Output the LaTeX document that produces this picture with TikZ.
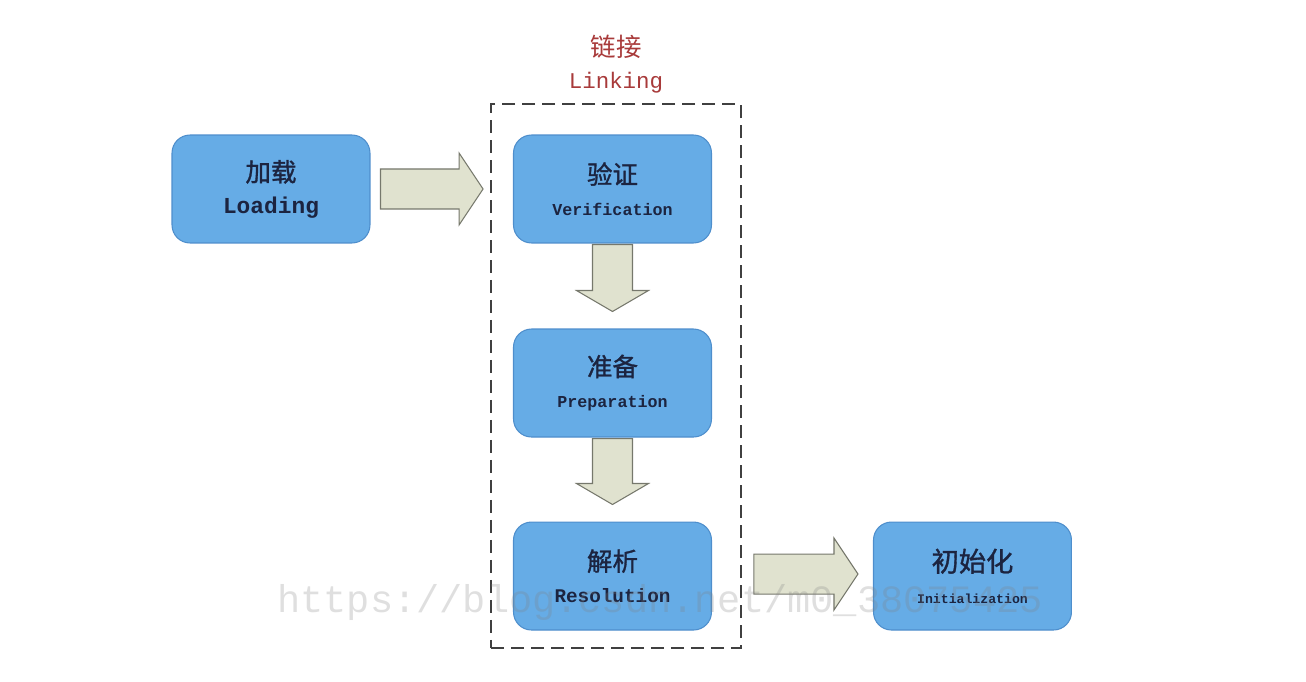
\documentclass[tikz,border=0pt]{standalone}
\usepackage{fontspec}
\usepackage{tikz}
\usetikzlibrary{positioning,calc}
\setmainfont{Liberation Serif}
\setmonofont{Liberation Mono}
\newfontfamily\cjk{Noto Sans CJK SC}[AutoFakeBold=1.2]
\definecolor{stageblue}{RGB}{102,172,230}
\definecolor{stageedge}{RGB}{78,142,204}
\definecolor{arrowfill}{RGB}{224,226,207}
\definecolor{arrowedge}{RGB}{118,120,108}
\definecolor{linkred}{RGB}{168,58,58}
\definecolor{stagetext}{RGB}{28,36,64}

\begin{document}
\begin{tikzpicture}[x=0.02cm, y=-0.02cm,
    stage/.style={draw=stageedge, line width=0.6pt, fill=stageblue, rounded corners=0.36cm,
      minimum width=3.96cm, minimum height=2.16cm, align=center, text=stagetext, inner sep=0pt,
      font=\bfseries},
    blockarrow/.style={draw=arrowedge, fill=arrowfill, line width=0.6pt, line join=miter}]
  \useasboundingbox (0,0) rectangle (1306,682);
  % stages
  \node[stage] (load) at (271,189)
    {{\cjk\fontsize{14.5}{17}\selectfont 加载}\\[6pt]{\ttfamily\fontsize{13}{15}\selectfont Loading}};
  \node[stage] (verif) at (612.5,189)
    {{\cjk\fontsize{14.5}{17}\selectfont 验证}\\[6pt]{\ttfamily\fontsize{9.5}{11}\selectfont Verification}};
  \node[stage, below=1.7cm of verif] (prep)
    {{\cjk\fontsize{14.5}{17}\selectfont 准备}\\[6pt]{\ttfamily\fontsize{9.5}{11}\selectfont Preparation}};
  \node[stage, below=1.68cm of prep] (resol)
    {{\cjk\fontsize{14.5}{17}\selectfont 解析}\\[6pt]{\ttfamily\fontsize{11}{13}\selectfont Resolution}};
  \node[stage, right=3.22cm of resol] (init)
    {{\cjk\fontsize{15.5}{17}\selectfont 初始化}\\[6pt]{\ttfamily\fontsize{7.5}{9}\selectfont Initialization}};
  % linking group
  \node[draw=black!75, line width=1.1pt, dash pattern=on 0.26cm off 0.14cm,
        minimum width=5cm, minimum height=10.88cm, inner sep=0pt] (linkbox) at (616,376) {};
  \node[text=linkred, align=center] (linktitle) at (616,64)
    {{\cjk\fontsize{14.5}{17}\selectfont 链接}\\[6pt]{\ttfamily\fontsize{12.8}{15}\selectfont Linking}};
  % block arrows
  \coordinate (a1s) at ($(load.east)+(10,0)$);
  \coordinate (a1e) at ($(linkbox.west |- load.east)+(-7,0)$);
  \coordinate (a2s) at ($(linkbox.east |- resol.east)+(12,-2)$);
  \coordinate (a2e) at ($(init.west)+(-15,-2)$);
  \foreach \s/\e in {a1s/a1e, a2s/a2e}
    \draw[blockarrow] ($(\s)+(0,-20)$) -- ($(\e)+(-24,-20)$) -- ($(\e)+(-24,-36)$) -- (\e)
      -- ($(\e)+(-24,36)$) -- ($(\e)+(-24,20)$) -- ($(\s)+(0,20)$) -- cycle;
  \foreach \a/\b in {verif/prep, prep/resol}
    \draw[blockarrow] ($(\a.south)+(-20,1)$) -- ($(\b.north)+(-20,-38)$) -- ($(\b.north)+(-36,-38)$)
      -- ($(\b.north)+(0,-17)$) -- ($(\b.north)+(36,-38)$) -- ($(\b.north)+(20,-38)$)
      -- ($(\a.south)+(20,1)$) -- cycle;
  % watermark
  \node[text=gray, opacity=0.25, font=\ttfamily\fontsize{22}{24}\selectfont] (wmark) at (660,603)
    {https://blog.csdn.net/m0\_38075425};
\end{tikzpicture}
\end{document}
